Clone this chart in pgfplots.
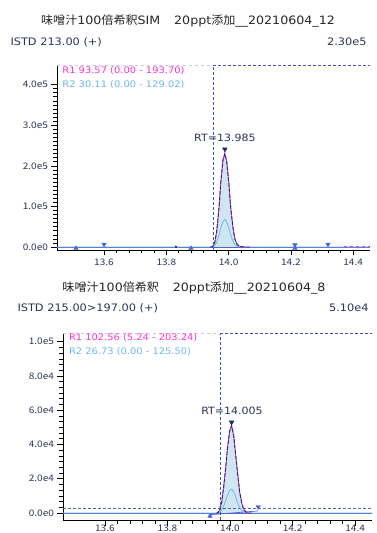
\documentclass[border=0pt]{standalone}
\usepackage{fontspec}
\setmainfont{DejaVu Sans}[FakeStretch=1.1]
\newfontfamily\cjk{Noto Sans CJK JP}[FakeStretch=1.05]
\newfontfamily\tickf{Noto Sans CJK JP}[FakeStretch=1.12]
\usepackage{pgfplots}
\pgfplotsset{compat=1.18}
\definecolor{navy}{HTML}{1F2D6B}
\definecolor{markblue}{HTML}{4F63D2}
\definecolor{rone}{HTML}{FF33CC}
\definecolor{rtwo}{HTML}{6FB7F0}
\definecolor{fillc}{HTML}{CFE6F0}
\definecolor{dashblue}{HTML}{3A55C0}
\definecolor{lightdash}{HTML}{C8C8E8}
\definecolor{textnavy}{HTML}{2A3556}

\pgfplotsset{
  chrom/.style={
    scale only axis,
    anchor=south west,
    axis lines*=left,
    tick align=outside,
    major tick length=5.5pt,
    minor tick length=3.5pt,
    tick style={black, line width=0.6pt},
    axis line style={black, line width=0.7pt},
    xtick={13.6,13.8,14.0,14.2,14.4},
    xticklabels={13.6,13.8,14.0,14.2,14.4},
    minor x tick num=4,
    scaled y ticks=false,
    /pgf/number format/assume math mode=true,
    ticklabel style={font=\tickf\fontsize{9}{10}\selectfont, text=textnavy},
    clip=false,
  },
  tri/.style={only marks, mark=triangle*, mark size=2.6pt, color=markblue},
  trid/.style={only marks, mark=triangle*, mark size=2.6pt, color=markblue, mark options={rotate=180}},
}

\begin{document}
\begin{tikzpicture}
\useasboundingbox (0,0) rectangle (377pt,533pt);
\fill[white] (0,0) rectangle (377pt,533pt);

% ---------- Top panel texts ----------
\node[anchor=center, font=\fontsize{11.5}{13}\selectfont, text=black!85] at (188pt,512pt) {{\cjk 味噌汁}100{\cjk 倍希釈}SIM\hspace{1.2em}20ppt{\cjk 添加}\_\_20210604\_12};
\node[anchor=west, font=\fontsize{10.3}{12}\selectfont, text=textnavy] at (7pt,491pt) {ISTD 213.00 (+)};
\node[anchor=east, font=\fontsize{10.3}{12}\selectfont, text=textnavy] at (370pt,491pt) {2.30e5};

\begin{axis}[chrom,
  at={(57pt,283pt)}, width=313pt, height=185pt,
  xmin=13.449, xmax=14.454,
  ymin=-7400, ymax=448300,
  ytick={0,100000,200000,300000,400000},
  yticklabels={0.0e0,1.0e5,2.0e5,3.0e5,4.0e5},
  minor y tick num=9,
]
% fill under R1
\addplot[fill=fillc, draw=none] coordinates {
(13.945,0) (13.950,2500) (13.956,12000) (13.962,40000) (13.969,95000) (13.975,160000)
(13.982,215000) (13.988,230000) (13.994,210000) (14.001,155000) (14.007,95000)
(14.014,48000) (14.020,20000) (14.027,7000) (14.033,2500) (14.040,800) (14.046,200) (14.055,0)} \closedcycle;
% baseline
\addplot[markblue, line width=0.9pt] coordinates {(13.449,0) (14.454,0)};
% R2
\addplot[rtwo, line width=0.8pt] coordinates {
(13.449,0) (13.945,0) (13.950,800) (13.956,3500) (13.962,12000) (13.969,28000) (13.975,48000)
(13.982,63000) (13.988,68000) (13.994,62000) (14.001,46000) (14.007,28000)
(14.014,14000) (14.020,6000) (14.027,2000) (14.033,700) (14.040,200) (14.050,0) (14.454,0)};
% R1 magenta
\addplot[rone, line width=0.9pt] coordinates {
(13.945,0) (13.950,2500) (13.956,12000) (13.962,40000) (13.969,95000) (13.975,160000)
(13.982,215000) (13.988,230000) (13.994,210000) (14.001,155000) (14.007,95000)
(14.014,48000) (14.020,20000) (14.027,7000) (14.033,2500) (14.040,800) (14.046,200) (14.055,0)};
\addplot[rone, line width=0.8pt, dashed] coordinates {(14.37,1500) (14.454,1500)};
% R1 navy dashed overlay
\addplot[navy, line width=0.9pt, dash pattern=on 4pt off 1.5pt] coordinates {
(13.940,0) (13.945,0) (13.950,2500) (13.956,12000) (13.962,40000) (13.969,95000) (13.975,160000)
(13.982,215000) (13.988,230000) (13.994,210000) (14.001,155000) (14.007,95000)
(14.014,48000) (14.020,20000) (14.027,7000) (14.033,2500) (14.040,800) (14.046,200) (14.055,0) (14.07,0)};
% dashed guide lines
\addplot[lightdash, line width=0.7pt, dashed] coordinates {(13.449,448300) (13.950,448300)};
\addplot[dashblue, line width=0.7pt, densely dashed] coordinates {(13.950,448300) (14.454,448300)};
\addplot[dashblue, line width=0.7pt, densely dashed] coordinates {(13.950,-7400) (13.950,448300)};
% markers
\addplot[tri] coordinates {(13.510,-3500) (13.879,-3500) (14.213,-3500)};
\addplot[trid] coordinates {(13.600,6500) (14.213,5000) (14.319,6500)};
\addplot[only marks, mark=*, mark size=0.9pt, color=navy] coordinates {(13.831,800)};
\addplot[only marks, mark=triangle*, mark size=2.8pt, color=navy, mark options={rotate=180}] coordinates {(13.988,241000)};
% labels
\node[anchor=west, font=\fontsize{9}{10}\selectfont, text=rone] at (rel axis cs:0.006,0.968) {R1 93.57 (0.00 - 193.70)};
\node[anchor=west, font=\fontsize{9}{10}\selectfont, text=rtwo] at (rel axis cs:0.006,0.892) {R2 30.11 (0.00 - 129.02)};
\node[font=\fontsize{10}{11}\selectfont, text=textnavy] at (axis cs:13.988,268000) {RT=13.985};
\end{axis}

% ---------- Bottom panel texts ----------
\node[anchor=center, font=\fontsize{11.5}{13}\selectfont, text=black!85] at (194pt,245pt) {{\cjk 味噌汁}100{\cjk 倍希釈}\hspace{1.2em}20ppt{\cjk 添加}\_\_20210604\_8};
\node[anchor=west, font=\fontsize{10.3}{12}\selectfont, text=textnavy] at (14pt,225pt) {ISTD 215.00>197.00 (+)};
\node[anchor=east, font=\fontsize{10.3}{12}\selectfont, text=textnavy] at (372pt,225pt) {5.10e4};

\begin{axis}[chrom,
  at={(63pt,13pt)}, width=309pt, height=187pt,
  xmin=13.466, xmax=14.454,
  ymin=-4090, ymax=105080,
  ytick={0,20000,40000,60000,80000,100000},
  yticklabels={0.0e0,2.0e4,4.0e4,6.0e4,8.0e4,1.0e5},
  minor y tick num=5,
  xticklabel style={yshift=4pt},
]
\addplot[fill=fillc, draw=none] coordinates {
(13.960,0) (13.966,1500) (13.973,6000) (13.979,14000) (13.986,26000) (13.992,38000)
(13.999,48000) (14.005,51000) (14.012,45000) (14.018,34000) (14.025,22000)
(14.031,12000) (14.038,5500) (14.044,2000) (14.051,600) (14.060,0)} \closedcycle;
\addplot[markblue, line width=0.9pt] coordinates {(13.466,0) (14.454,0)};
\addplot[markblue, line width=0.7pt] coordinates {(13.936,-1000) (14.09,1200)};
\addplot[dashblue!70!gray, line width=0.7pt, densely dashed] coordinates {(13.466,2900) (14.454,2900)};
\addplot[rtwo, line width=0.8pt] coordinates {
(13.466,0) (13.960,0) (13.966,400) (13.973,1600) (13.979,3800) (13.986,7000) (13.992,10500)
(13.999,13200) (14.005,14000) (14.012,12300) (14.018,9200) (14.025,5800)
(14.031,3200) (14.038,1400) (14.044,500) (14.051,150) (14.060,0) (14.454,0)};
\addplot[rone, line width=0.9pt] coordinates {
(13.960,0) (13.966,1500) (13.973,6000) (13.979,14000) (13.986,26000) (13.992,38000)
(13.999,48000) (14.005,51000) (14.012,45000) (14.018,34000) (14.025,22000)
(14.031,12000) (14.038,5500) (14.044,2000) (14.051,600) (14.060,0)};
\addplot[navy, line width=0.9pt, dash pattern=on 4pt off 1.5pt] coordinates {
(13.955,0) (13.960,0) (13.966,1500) (13.973,6000) (13.979,14000) (13.986,26000) (13.992,38000)
(13.999,48000) (14.005,51000) (14.012,45000) (14.018,34000) (14.025,22000)
(14.031,12000) (14.038,5500) (14.044,2000) (14.051,600) (14.060,0) (14.07,0)};
\addplot[lightdash, line width=0.7pt, dashed] coordinates {(13.466,105080) (13.968,105080)};
\addplot[dashblue, line width=0.7pt, densely dashed] coordinates {(13.968,105080) (14.454,105080)};
\addplot[dashblue, line width=0.7pt, densely dashed] coordinates {(13.968,-4090) (13.968,105080)};
\addplot[tri] coordinates {(13.936,-1800)};
\addplot[trid] coordinates {(14.090,3600)};
\addplot[only marks, mark=triangle*, mark size=2.8pt, color=navy, mark options={rotate=180}] coordinates {(14.005,53000)};
\node[anchor=west, font=\fontsize{9}{10}\selectfont, text=rone] at (rel axis cs:0.008,0.973) {R1 102.56 (5.24 - 203.24)};
\node[anchor=west, font=\fontsize{9}{10}\selectfont, text=rtwo] at (rel axis cs:0.008,0.898) {R2 26.73 (0.00 - 125.50)};
\node[font=\fontsize{10}{11}\selectfont, text=textnavy] at (axis cs:14.006,59500) {RT=14.005};
\end{axis}
\end{tikzpicture}
\end{document}
